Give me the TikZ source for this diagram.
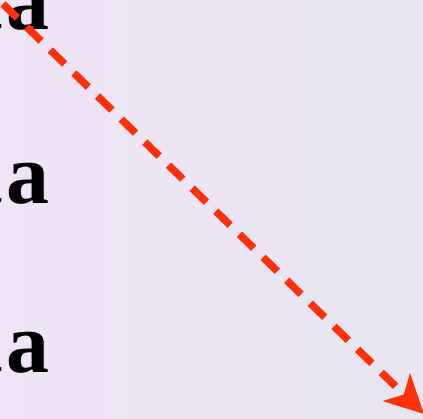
\documentclass[tikz,border=0pt]{standalone}
\usepackage{fontspec}
\setmainfont{Liberation Serif}
\usetikzlibrary{arrows.meta}
\definecolor{bgleft}{RGB}{240,228,246}
\definecolor{bgright}{RGB}{232,230,241}
\definecolor{arrowred}{RGB}{255,48,8}
\tikzset{
  bigtext/.style={inner sep=0pt, anchor=base east, font=\fontsize{86}{86}\selectfont\bfseries, text=black},
  redarrow/.style={draw=arrowred, line width=7.5pt, dash pattern=on 20pt off 13pt, -{Stealth[length=38pt,width=38pt,inset=10pt]}}
}
\begin{document}
\begin{tikzpicture}[x=1pt,y=-1pt]
\useasboundingbox (0,0) rectangle (423,419);
\shade[left color=bgleft, right color=bgright] (0,0) rectangle (423,419);
\node[bigtext] (t1) at (50,30) {t\kern5pt a};
\node[bigtext] (t2) at (50,204) {t\kern5pt a};
\node[bigtext] (t3) at (50,373) {t\kern5pt a};
\coordinate (s) at (3,4);
\coordinate (e) at (424,414);
\draw[redarrow] (s) -- (e);
\end{tikzpicture}
\end{document}
